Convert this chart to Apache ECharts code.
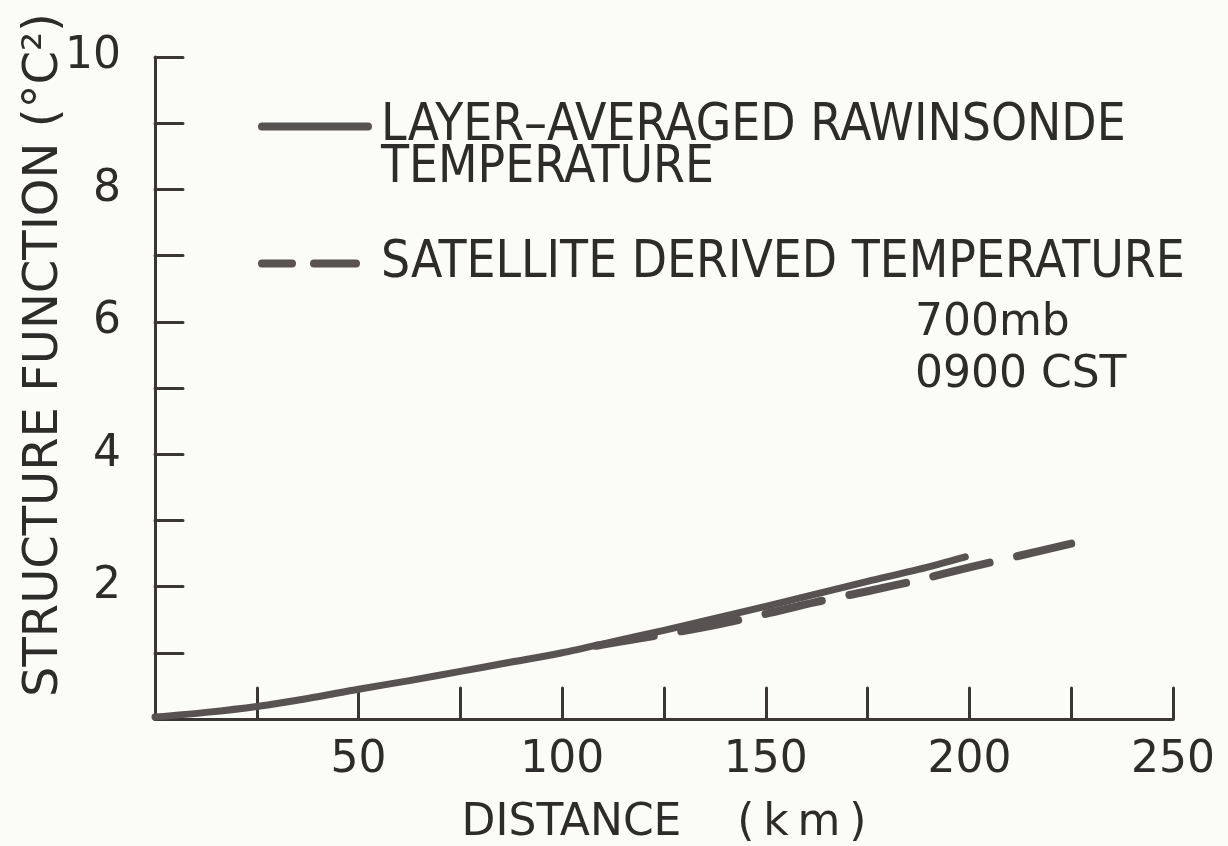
<!DOCTYPE html>
<html>
<head>
<meta charset="utf-8">
<title>Structure function vs distance</title>
<script src="https://cdn.jsdelivr.net/npm/echarts@6/dist/echarts.min.js"></script>
<style>
  html, body { margin: 0; padding: 0; background: #fbfbf8; }
  #chart { width: 1228px; height: 846px; }
</style>
</head>
<body>
<div id="chart"></div>
<script>
// Layer-averaged rawinsonde temperature (solid curve)
const rawDistance = [0, 12.5, 25, 37.5, 50, 62.5, 75, 87.5, 100, 112.5, 125, 137.5, 150, 162.5, 175, 187.5, 199];
const rawValues   = [0.03, 0.10, 0.19, 0.31, 0.45, 0.58, 0.72, 0.86, 1.00, 1.17, 1.34, 1.52, 1.70, 1.89, 2.08, 2.26, 2.45];

// Satellite derived temperature (dashed curve)
const satDistance = [106, 112.5, 125, 137.5, 150, 162.5, 175, 187.5, 200, 212.5, 225];
const satValues   = [1.08, 1.15, 1.28, 1.42, 1.59, 1.77, 1.93, 2.10, 2.29, 2.47, 2.65];

// Axis labelling
const xLabelValues = [50, 100, 150, 200, 250];
const yLabelValues = [2, 4, 6, 8, 10];

const NAME_RAW = 'LAYER–AVERAGED RAWINSONDE TEMPERATURE';
const NAME_SAT = 'SATELLITE DERIVED TEMPERATURE';
const noteLines = ['700mb', '0900 CST'];

const INK = '#3a3636';
const CURVE = '#595252';
const TEXT = '#2e2b2b';
const ROUND_FONT = "'DejaVu Sans', sans-serif";
const NARROW_FONT = "'DejaVu Sans Condensed', 'Liberation Sans Narrow', sans-serif";

const zip = (xs, ys) => xs.map((x, i) => [x, ys[i]]);

const chart = echarts.init(document.getElementById('chart'), null, { renderer: 'canvas' });

chart.setOption({
  backgroundColor: '#fbfbf8',
  animation: false,
  grid: { left: 155, right: 55, top: 57, bottom: 127, containLabel: false, outerBoundsMode: 'none' },
  xAxis: {
    type: 'value',
    min: 0, max: 250, interval: 25,
    name: 'DISTANCE    (\u2009k\u2009m\u2009)',
    nameLocation: 'middle',
    nameGap: 83,
    nameMoveOverlap: false,
    nameTextStyle: { fontFamily: ROUND_FONT, fontSize: 44, color: TEXT },
    axisLine: { show: true, onZero: false, lineStyle: { color: INK, width: 3 } },
    axisTick: { show: true, inside: true, length: 31, lineStyle: { color: INK, width: 3, cap: 'round' } },
    axisLabel: {
      margin: 20,
      fontFamily: ROUND_FONT, fontSize: 44, color: TEXT,
      formatter: v => (xLabelValues.indexOf(v) >= 0 ? String(v) : '')
    },
    splitLine: { show: false }
  },
  yAxis: {
    type: 'value',
    min: 0, max: 10, interval: 1,
    name: 'STRUCTURE FUNCTION (°C²)',
    nameLocation: 'middle',
    nameGap: 86,
    nameRotate: 90,
    nameMoveOverlap: false,
    nameTextStyle: { fontFamily: ROUND_FONT, fontSize: 48, color: TEXT, padding: [0, 0, 0, 66] },
    axisLine: { show: true, onZero: false, lineStyle: { color: INK, width: 3 } },
    axisTick: { show: true, inside: true, length: 28, lineStyle: { color: INK, width: 3, cap: 'round' } },
    axisLabel: {
      margin: 34,
      fontFamily: ROUND_FONT, fontSize: 44, color: TEXT,
      formatter: v => (yLabelValues.indexOf(v) >= 0 ? String(v) : '')
    },
    splitLine: { show: false }
  },
  legend: {
    orient: 'vertical',
    left: 253,
    top: 54,
    itemWidth: 114,
    itemHeight: 8,
    itemGap: 44,
    textStyle: { fontFamily: NARROW_FONT, fontSize: 51, color: TEXT, lineHeight: 42 },
    // leading empty line keeps the first text line level with the legend stroke
    formatter: name => (name === NAME_RAW ? '\nLAYER–AVERAGED RAWINSONDE\nTEMPERATURE' : name),
    data: [
      // stroke patterns stop a little short of the text
      { name: NAME_RAW, itemStyle: { opacity: 0 },
        lineStyle: { color: CURVE, width: 8, type: [106, 60], cap: 'round' } },
      { name: NAME_SAT, itemStyle: { opacity: 0 },
        lineStyle: { color: CURVE, width: 8, type: [42, 22], cap: 'round' } }
    ]
  },
  graphic: [
    {
      type: 'text', left: 915, top: 298,
      style: { text: noteLines.join('\n'), fontFamily: ROUND_FONT, fontSize: 44, lineHeight: 52, fill: TEXT }
    }
  ],
  series: [
    {
      name: NAME_RAW,
      type: 'line',
      data: zip(rawDistance, rawValues),
      smooth: 0.3,
      symbol: 'none',
      itemStyle: { color: CURVE },
      lineStyle: { color: CURVE, width: 7, cap: 'round', join: 'round' },
      z: 3
    },
    {
      name: NAME_SAT,
      type: 'line',
      data: zip(satDistance, satValues),
      smooth: 0.3,
      symbol: 'none',
      itemStyle: { color: CURVE },
      lineStyle: { color: CURVE, width: 8, type: [58, 28], dashOffset: 76, cap: 'round', join: 'round' },
      z: 2
    }
  ]
});
</script>
</body>
</html>
